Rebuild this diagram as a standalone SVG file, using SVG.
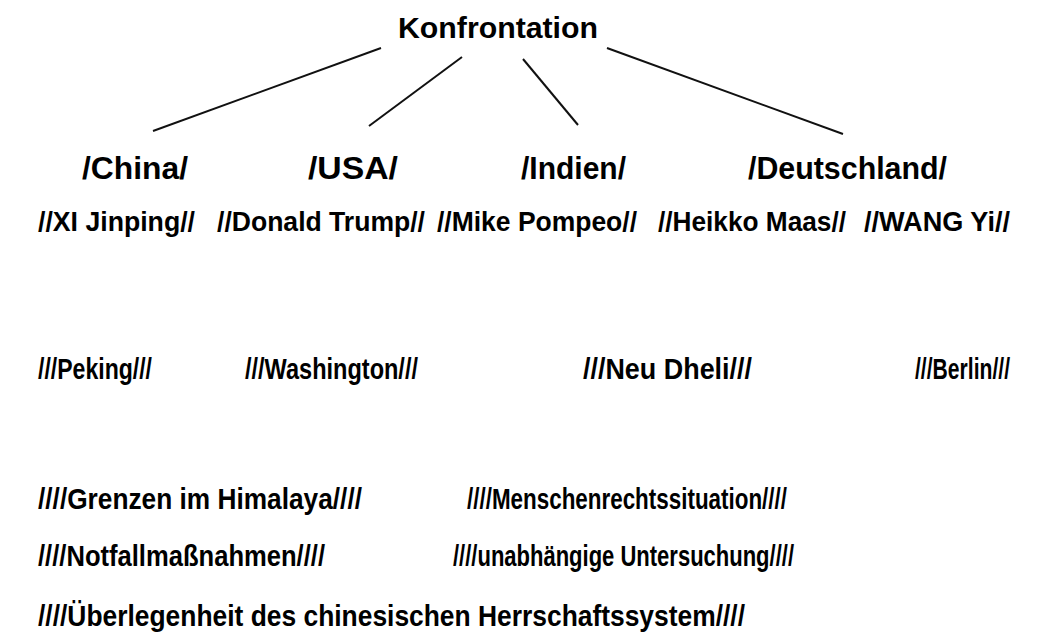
<svg xmlns="http://www.w3.org/2000/svg" width="1048" height="642" viewBox="0 0 1048 642">
<style>
text{font-family:"Liberation Sans",Arial,sans-serif;font-weight:bold;fill:#000}
.t0{font-size:30px}
.t1{font-size:31px}
.t2{font-size:28px}
.t3{font-size:30px}
.t4{font-size:30px}
.c{stroke:#111;stroke-width:2;fill:none}
</style>
<rect width="1048" height="642" fill="#fff"/>
<g id="connectors">
<line class="c" x1="381" y1="48" x2="153" y2="131"/>
<line class="c" x1="462" y1="57" x2="369" y2="126"/>
<line class="c" x1="523" y1="59" x2="578" y2="125"/>
<line class="c" x1="607" y1="48" x2="843" y2="134"/>
</g>
<g id="root"><text class="t0" x="398" y="38" textLength="200" lengthAdjust="spacingAndGlyphs">Konfrontation</text></g>
<g id="china"><text class="t1" x="82" y="179" textLength="106" lengthAdjust="spacingAndGlyphs">/China/</text></g>
<g id="usa"><text class="t1" x="308" y="179" textLength="90" lengthAdjust="spacingAndGlyphs">/USA/</text></g>
<g id="indien"><text class="t1" x="521" y="179" textLength="105" lengthAdjust="spacingAndGlyphs">/Indien/</text></g>
<g id="deutschland"><text class="t1" x="748" y="179" textLength="199" lengthAdjust="spacingAndGlyphs">/Deutschland/</text></g>
<g id="xi"><text class="t2" x="38" y="231" textLength="157" lengthAdjust="spacingAndGlyphs">//XI Jinping//</text></g>
<g id="trump"><text class="t2" x="217" y="231" textLength="208" lengthAdjust="spacingAndGlyphs">//Donald Trump//</text></g>
<g id="pompeo"><text class="t2" x="437" y="231" textLength="200" lengthAdjust="spacingAndGlyphs">//Mike Pompeo//</text></g>
<g id="maas"><text class="t2" x="658" y="231" textLength="188" lengthAdjust="spacingAndGlyphs">//Heikko Maas//</text></g>
<g id="wang"><text class="t2" x="864" y="231" textLength="146" lengthAdjust="spacingAndGlyphs">//WANG Yi//</text></g>
<g id="peking"><text class="t3" x="38" y="379" textLength="114" lengthAdjust="spacingAndGlyphs">///Peking///</text></g>
<g id="washington"><text class="t3" x="245" y="379" textLength="173" lengthAdjust="spacingAndGlyphs">///Washington///</text></g>
<g id="neudheli"><text class="t3" x="583" y="379" textLength="169" lengthAdjust="spacingAndGlyphs">///Neu Dheli///</text></g>
<g id="berlin"><text class="t3" x="915" y="379" textLength="95" lengthAdjust="spacingAndGlyphs">///Berlin///</text></g>
<g id="grenzen"><text class="t4" x="38" y="509" textLength="324" lengthAdjust="spacingAndGlyphs">////Grenzen im Himalaya////</text></g>
<g id="menschenrechte"><text class="t4" x="467" y="509" textLength="320" lengthAdjust="spacingAndGlyphs">////Menschenrechtssituation////</text></g>
<g id="notfall"><text class="t4" x="38" y="566" textLength="287" lengthAdjust="spacingAndGlyphs">////Notfallmaßnahmen////</text></g>
<g id="untersuchung"><text class="t4" x="453" y="566" textLength="341" lengthAdjust="spacingAndGlyphs">////unabhängige Untersuchung////</text></g>
<g id="ueberlegenheit"><text class="t4" x="38" y="626" textLength="707" lengthAdjust="spacingAndGlyphs">////Überlegenheit des chinesischen Herrschaftssystem////</text></g>
</svg>
